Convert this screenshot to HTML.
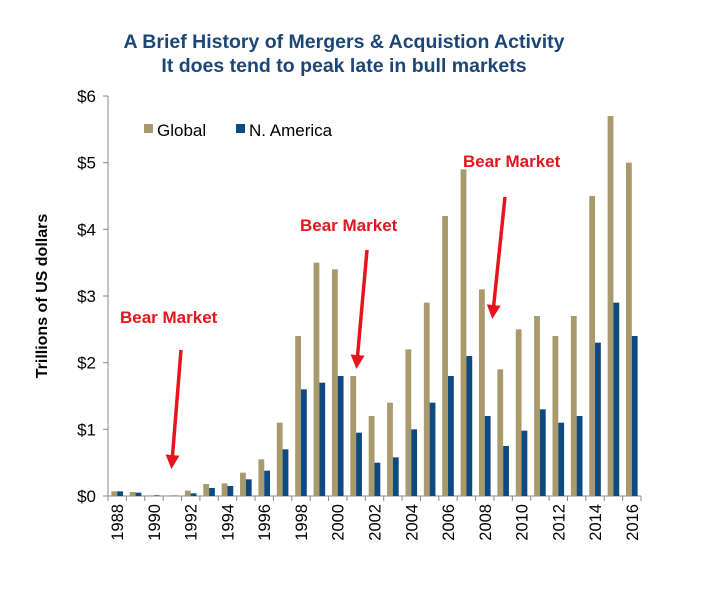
<!DOCTYPE html>
<html><head><meta charset="utf-8"><style>
body{margin:0;background:#fff;font-family:"Liberation Sans",Arial,sans-serif}
svg text{font-family:"Liberation Sans",Arial,sans-serif}
</style></head><body>
<svg id="c" width="728" height="610">
<text x="344" y="48" text-anchor="middle" font-size="19.5" font-weight="bold" fill="#1b4677">A Brief History of Mergers &amp; Acquistion Activity</text>
<text x="344" y="72" text-anchor="middle" font-size="19.5" font-weight="bold" fill="#1b4677">It does tend to peak late in bull markets</text>
<text transform="translate(47,296) rotate(-90)" text-anchor="middle" font-size="16" font-weight="bold" fill="#000">Trillions of US dollars</text>
<g id="axes"></g><g id="bars"></g>
<g>
<rect x="144" y="124" width="9" height="9" fill="#a89a6c"/>
<text x="157" y="136" font-size="17">Global</text>
<rect x="236" y="124" width="9" height="9" fill="#0e4a82"/>
<text x="249" y="136" font-size="17">N. America</text>
</g>
<defs><marker id="ah" markerWidth="4" markerHeight="4" refX="2" refY="2" orient="auto"><path d="M0,0 L4,2 L0,4 z" fill="#e8141c"/></marker></defs>
<text x="120" y="323" font-size="17" font-weight="bold" fill="#e8141c">Bear Market</text>
<line x1="181" y1="350" x2="172" y2="462" stroke="#e8141c" stroke-width="3.5" marker-end="url(#ah)"/>
<text x="300" y="231" font-size="17" font-weight="bold" fill="#e8141c">Bear Market</text>
<line x1="367" y1="250" x2="357" y2="362" stroke="#e8141c" stroke-width="3.5" marker-end="url(#ah)"/>
<text x="463" y="167" font-size="17" font-weight="bold" fill="#e8141c">Bear Market</text>
<line x1="505" y1="197" x2="493" y2="312" stroke="#e8141c" stroke-width="3.5" marker-end="url(#ah)"/>
</svg>
<script>
const years=[1988,1989,1990,1991,1992,1993,1994,1995,1996,1997,1998,1999,2000,2001,2002,2003,2004,2005,2006,2007,2008,2009,2010,2011,2012,2013,2014,2015,2016];
const globalVals=[0.07,0.06,0.01,0.01,0.08,0.18,0.19,0.35,0.55,1.1,2.4,3.5,3.4,1.8,1.2,1.4,2.2,2.9,4.2,4.9,3.1,1.9,2.5,2.7,2.4,2.7,4.5,5.7,5.0];
const naVals=[0.07,0.05,0.01,0.005,0.04,0.12,0.15,0.25,0.38,0.7,1.6,1.7,1.8,0.95,0.5,0.58,1.0,1.4,1.8,2.1,1.2,0.75,0.98,1.3,1.1,1.2,2.3,2.9,2.4];
const yTicks=[0,1,2,3,4,5,6];
const yTickLabels=["$0","$1","$2","$3","$4","$5","$6"];
const NS="http://www.w3.org/2000/svg";
const x0=108,x1=641,y0=496,yTop=96,ymax=6;
const bw=(x1-x0)/years.length;
const xs=i=>x0+bw*i;
const ys=v=>y0-(v/ymax)*(y0-yTop);
function mk(t,a,p){const e=document.createElementNS(NS,t);for(const k in a)e.setAttribute(k,a[k]);p.appendChild(e);return e;}
const ax=document.getElementById('axes'),bg=document.getElementById('bars');
let l=mk('line',{x1:x0,y1:yTop,x2:x0,y2:y0,stroke:'#888','stroke-width':1},ax);


l=mk('line',{x1:x0,y1:y0,x2:x1,y2:y0,stroke:'#888','stroke-width':1},ax);


yTicks.forEach((v,i)=>{
 mk('line',{x1:x0-5,x2:x0,y1:ys(v),y2:ys(v),stroke:'#888'},ax);
 const t=mk('text',{x:x0-12,y:ys(v)+6,'text-anchor':'end','font-size':17},ax);
 t.textContent=yTickLabels[i];
 
 
});
for(let i=0;i<=years.length;i++)mk('line',{x1:xs(i),x2:xs(i),y1:y0,y2:y0+5,stroke:'#888'},ax);
years.forEach((yr,i)=>{
 const cx=xs(i)+bw/2;
 let r=mk('rect',{x:cx-5.8,y:ys(globalVals[i]),width:5.8,height:y0-ys(globalVals[i]),fill:'#a89a6c'},bg);
 
 
 r=mk('rect',{x:cx,y:ys(naVals[i]),width:5.8,height:y0-ys(naVals[i]),fill:'#0e4a82'},bg);
 
 
 if(yr%2===0){
  const t=mk('text',{transform:`translate(${cx+6},${y0+8}) rotate(-90)`,'text-anchor':'end','font-size':16.5},ax);
  t.textContent=yr;
  
  
 }
});
</script>
</body></html>
